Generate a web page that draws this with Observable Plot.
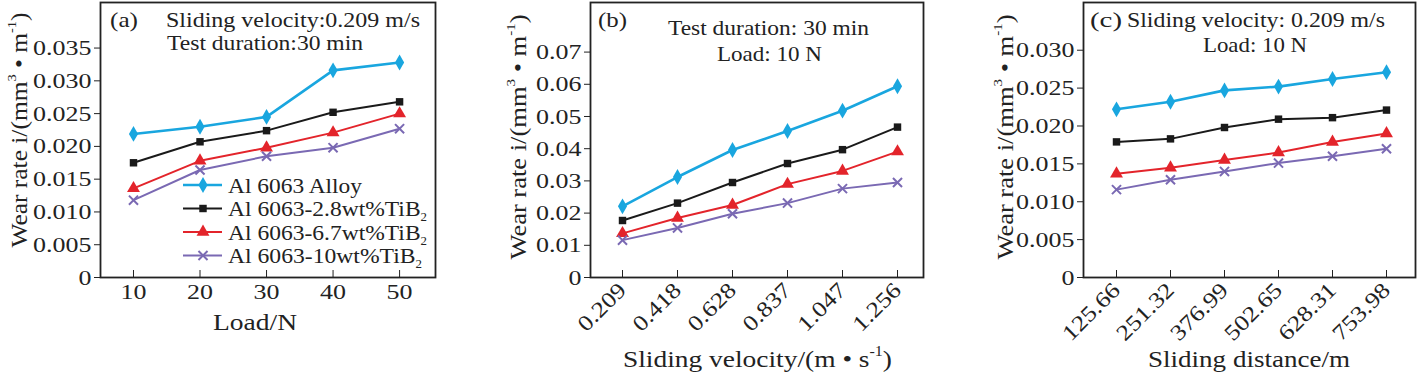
<!DOCTYPE html>
<html><head><meta charset="utf-8">
<script src="https://cdn.jsdelivr.net/npm/d3@7"></script>
<script src="https://cdn.jsdelivr.net/npm/@observablehq/plot@0.6"></script>
<style>
body{margin:0;background:#fff;}
#wrap{position:relative;width:1417px;height:376px;overflow:hidden;font-family:"Liberation Serif","Times New Roman",serif;background:#fff;}
#wrap svg{position:absolute;top:0;}
</style></head><body><div id="wrap"></div>
<script>
// ---------- data ----------
const seriesNames = ["Al 6063 Alloy", "Al 6063-2.8wt%TiB2", "Al 6063-6.7wt%TiB2", "Al 6063-10wt%TiB2"];
const seriesColors = ["#19a6df", "#1a1a1a", "#e3242b", "#7a69b3"];
const seriesSymbols = ["diamond", "square", "triangle", "times"];

const loads = [10, 20, 30, 40, 50];
const loadAlloy = [0.0219, 0.0230, 0.0245, 0.0316, 0.0328];
const load28    = [0.0175, 0.0207, 0.0224, 0.0252, 0.0268];
const load67    = [0.0136, 0.0178, 0.0198, 0.0221, 0.0250];
const load10    = [0.0118, 0.0164, 0.0185, 0.0198, 0.0227];

const velocities = ["0.209", "0.418", "0.628", "0.837", "1.047", "1.256"];
const velAlloy = [0.0221, 0.0312, 0.0396, 0.0455, 0.0518, 0.0594];
const vel28    = [0.0177, 0.0231, 0.0295, 0.0354, 0.0397, 0.0467];
const vel67    = [0.0137, 0.0185, 0.0225, 0.0290, 0.0331, 0.0391];
const vel10    = [0.0116, 0.0154, 0.0198, 0.0231, 0.0276, 0.0295];

const distances = ["125.66", "251.32", "376.99", "502.65", "628.31", "753.98"];
const distAlloy = [0.0222, 0.0232, 0.0247, 0.0252, 0.0262, 0.0271];
const dist28    = [0.0179, 0.0183, 0.0198, 0.0209, 0.0211, 0.0221];
const dist67    = [0.0137, 0.0145, 0.0155, 0.0165, 0.0179, 0.0190];
const dist10    = [0.0116, 0.0129, 0.0140, 0.0151, 0.0160, 0.0170];

const ticksA = [0, 0.005, 0.010, 0.015, 0.020, 0.025, 0.030, 0.035];
const ticksB = [0, 0.01, 0.02, 0.03, 0.04, 0.05, 0.06, 0.07];
const ticksC = [0, 0.005, 0.010, 0.015, 0.020, 0.025, 0.030];

// ---------- helpers ----------
function table(xs, arrays) {
  const rows = [];
  arrays.forEach((arr, s) => arr.forEach((v, i) => rows.push({x: xs[i], y: v, s: seriesNames[s]})));
  return rows;
}
const wrap = document.getElementById("wrap");
const FONT = "'Liberation Serif','Times New Roman',serif";

function seriesMarks(rows) {
  const m = [];
  seriesNames.forEach((name, i) => {
    const d = rows.filter(r => r.s === name);
    m.push(Plot.line(d, {x: "x", y: "y", stroke: seriesColors[i], strokeWidth: i === 0 ? 2.6 : 2}));
    if (seriesSymbols[i] === "times")
      m.push(Plot.dot(d, {x: "x", y: "y", symbol: "times", r: 4.2, stroke: seriesColors[i], strokeWidth: 2}));
    else
      m.push(Plot.dot(d, {x: "x", y: "y", symbol: seriesSymbols[i], r: seriesSymbols[i] === "square" ? 4.2 : 4.8, fill: seriesColors[i], stroke: "none"}));
  });
  return m;
}

function panel({left, width, mL, mR, x, yDomain, yTicks, yFmt, xTicks, rotate, rows}) {
  const marks = [
    ...seriesMarks(rows),
    Plot.axisY({ticks: yTicks, tickSize: 6, tickPadding: 3, tickFormat: yFmt, label: null, stroke: "#222", fill: "#222"}),
    Plot.axisX({ticks: xTicks, tickSize: 7, dy: -7, tickFormat: () => "", label: null, stroke: "#222"}),
    rotate
      ? Plot.axisX({ticks: xTicks, tickSize: 0, tickRotate: -45, tickPadding: 9, label: null, fill: "#222"})
      : Plot.axisX({ticks: xTicks, tickSize: 0, tickPadding: 6, label: null, fill: "#222"}),
    Plot.frame({stroke: "#222", strokeWidth: 1.8})
  ];
  const svg = Plot.plot({
    width, height: 376,
    marginLeft: mL, marginRight: mR, marginTop: 2, marginBottom: 99,
    x, y: {domain: yDomain},
    style: {fontFamily: FONT, fontSize: "22px", background: "transparent", overflow: "visible"},
    marks
  });
  svg.style.left = left + "px";
  // widen tick label glyphs horizontally, as in the reference typeface
  svg.querySelectorAll("g[aria-label$='tick label'] text").forEach(t => {
    const tr = t.getAttribute("transform") || "";
    t.setAttribute("transform", tr + " scale(1.18,1)");
  });
  wrap.appendChild(svg);
}

const fmt3 = d => d === 0 ? "0" : d.toFixed(3);
const fmt2 = d => d === 0 ? "0" : d.toFixed(2);

panel({left: 0, width: 437, mL: 100, mR: 2, x: {type: "linear", domain: [5.04, 55.4]},
  yDomain: [0, 0.04195], yTicks: ticksA, yFmt: fmt3, xTicks: loads, rotate: false,
  rows: table(loads, [loadAlloy, load28, load67, load10])});
panel({left: 480, width: 445, mL: 110, mR: 2, x: {type: "point", domain: velocities, padding: 0.527, align: 0.547},
  yDomain: [0, 0.0854], yTicks: ticksB, yFmt: fmt2, xTicks: velocities, rotate: true,
  rows: table(velocities, [velAlloy, vel28, vel67, vel10])});
panel({left: 970, width: 447, mL: 113, mR: 2, x: {type: "point", domain: distances, padding: 0.525, align: 0.526},
  yDomain: [0, 0.0363], yTicks: ticksC, yFmt: fmt3, xTicks: distances, rotate: true,
  rows: table(distances, [distAlloy, dist28, dist67, dist10])});

// ---------- overlay text & legend ----------
const ov = d3.select(wrap).append("svg").attr("width", 1417).attr("height", 376)
  .style("left", "0px").style("font-family", FONT).style("fill", "#222");

function txt(x, y, s, size, anchor, len) {
  const t = ov.append("text").attr("x", x).attr("y", y).attr("font-size", size).attr("text-anchor", anchor).text(s);
  if (len) t.attr("textLength", len).attr("lengthAdjust", "spacingAndGlyphs");
  return t;
}
// panel labels and conditions
txt(110, 27, "(a)", 22, "start", 28);
txt(166, 27, "Sliding velocity:0.209 m/s", 22, "start", 254);
txt(167, 50, "Test duration:30 min", 22, "start", 196);
txt(598, 27, "(b)", 22, "start", 29);
txt(768.5, 35, "Test duration: 30 min", 22, "middle", 201);
txt(769.5, 61, "Load: 10 N", 22, "middle", 105);
txt(1090, 27, "(c)", 22, "start", 32);
txt(1127, 27, "Sliding velocity: 0.209 m/s", 22, "start", 258);
txt(1255, 52, "Load: 10 N", 22, "middle", 104);

// y-axis titles
function yTitle(x, y, len) {
  const t = ov.append("text").attr("transform", `translate(${x},${y}) rotate(-90)`)
    .attr("font-size", 23).attr("text-anchor", "middle")
    .attr("textLength", len).attr("lengthAdjust", "spacingAndGlyphs");
  t.append("tspan").text("Wear rate i/(mm");
  t.append("tspan").attr("font-size", 13).attr("dy", -11).text("3");
  t.append("tspan").attr("dy", 11).text(" • m");
  t.append("tspan").attr("font-size", 13).attr("dy", -11).text("-1");
  t.append("tspan").attr("dy", 11).text(")");
}
yTitle(27, 130, 235);
yTitle(526, 137, 245);
yTitle(1013, 137, 245);

// x-axis titles
txt(255, 330, "Load/N", 24, "middle", 84);
{
  const t = ov.append("text").attr("x", 757.5).attr("y", 367).attr("font-size", 24).attr("text-anchor", "middle")
    .attr("textLength", 269).attr("lengthAdjust", "spacingAndGlyphs");
  t.append("tspan").text("Sliding velocity/(m • s");
  t.append("tspan").attr("font-size", 14).attr("dy", -11).text("-1");
  t.append("tspan").attr("dy", 11).text(")");
}
txt(1249, 367, "Sliding distance/m", 24, "middle", 202);

// legend (panel a)
const symMap = {diamond: d3.symbolDiamond, square: d3.symbolSquare, triangle: d3.symbolTriangle, times: d3.symbolTimes};
const legendLens = [134, 199, 199, 194];
seriesNames.forEach((name, i) => {
  const y = 185 + i * 23.5;
  ov.append("line").attr("x1", 183).attr("x2", 222).attr("y1", y).attr("y2", y)
    .attr("stroke", seriesColors[i]).attr("stroke-width", i === 0 ? 2.6 : 2);
  const r = seriesSymbols[i] === "square" ? 4.2 : seriesSymbols[i] === "times" ? 4.2 : 4.8;
  const p = ov.append("path").attr("transform", `translate(203,${y})`)
    .attr("d", d3.symbol(symMap[seriesSymbols[i]], r * r * Math.PI)());
  if (seriesSymbols[i] === "times") p.attr("fill", "none").attr("stroke", seriesColors[i]).attr("stroke-width", 2);
  else p.attr("fill", seriesColors[i]);
  const t = ov.append("text").attr("x", 228).attr("y", y + 7.5).attr("font-size", 22)
    .attr("textLength", legendLens[i]).attr("lengthAdjust", "spacingAndGlyphs");
  const m = name.match(/^(.*TiB)2$/);
  if (m) {
    t.append("tspan").text(m[1]);
    t.append("tspan").attr("font-size", 12).attr("dy", 5).text("2");
  } else t.text(name);
});
</script>
</body></html>
